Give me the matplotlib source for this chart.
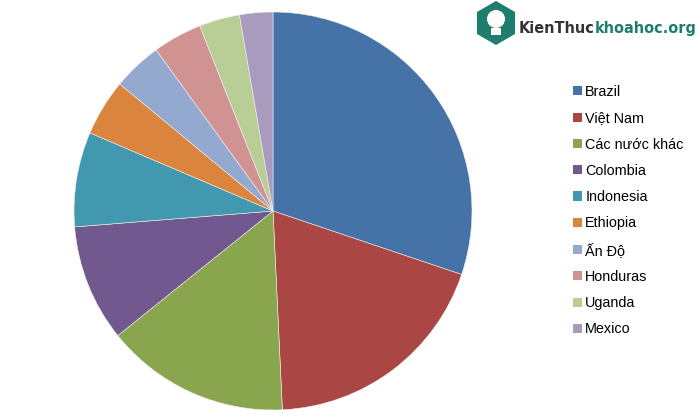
import matplotlib
matplotlib.use("Agg")
import matplotlib.pyplot as plt
from matplotlib.patches import RegularPolygon, Patch

countries = ["Brazil", "Việt Nam", "Các nước khác", "Colombia", "Indonesia",
             "Ethiopia", "Ấn Độ", "Honduras", "Uganda", "Mexico"]
shares = [30.2, 19.1, 15.0, 9.5, 7.7, 4.6, 4.0, 4.0, 3.3, 2.7]
colors = ["#4572A7", "#AA4643", "#89A54E", "#71588F", "#4198AF",
          "#DB843D", "#93A9CF", "#D19392", "#B9CD96", "#A99BBD"]
logo_parts = ["KienThuc", "khoahoc.org"]
logo_colors = ["#333333", "#1f7d6e"]

plt.rcParams['font.family'] = ['Liberation Sans', 'DejaVu Sans']

fig = plt.figure(figsize=(7, 4.2), dpi=100)

# pie: centre ~ (273, 211) px, radius ~199 px
ax = fig.add_axes([73/700, 9/420, 400/700, 400/420])
ax.pie(shares, colors=colors, startangle=90, counterclock=False, radius=0.995,
       wedgeprops=dict(edgecolor='#f0f0f0', linewidth=0.4))
ax.set_xlim(-1, 1)
ax.set_ylim(-1, 1)
ax.set_aspect('equal')
ax.axis('off')

handles = [Patch(facecolor=c, edgecolor='none') for c in colors]
fig.legend(handles, countries, loc='upper left', bbox_to_anchor=(573/700, 1 - 85/420),
           frameon=False, fontsize=10.4, labelspacing=0.85, handlelength=0.6,
           handleheight=0.6, handletextpad=0.25, borderpad=0, borderaxespad=0)

# watermark logo (pixel coords, y down)
lax = fig.add_axes([0, 0, 1, 1], zorder=5)
lax.set_xlim(0, 700)
lax.set_ylim(420, 0)
lax.axis('off')
lax.add_patch(RegularPolygon((496, 23), 6, radius=22, orientation=0,
                             facecolor='#1f7d6e', edgecolor='none'))
lax.add_patch(plt.Circle((496, 19), 9, facecolor='white', edgecolor='none'))
lax.add_patch(plt.Rectangle((491, 28), 10, 7, facecolor='white', edgecolor='none'))

# fit the logo text into the space right of the hexagon
fs = 20
texts = []
x0 = 519
for s, c in zip(logo_parts, logo_colors):
    t = lax.text(x0, 33, s, ha='left', va='baseline', fontsize=fs,
                 fontweight='bold', color=c, fontstretch='condensed',
                 family=['DejaVu Sans', 'Liberation Sans'])
    texts.append(t)
fig.canvas.draw()
r = fig.canvas.get_renderer()
total = sum(t.get_window_extent(r).width for t in texts)
fs = fs * (697 - 519) / total
x0 = 519
for t in texts:
    t.set_fontsize(fs)
    t.set_x(x0)
    fig.canvas.draw()
    x0 += t.get_window_extent(r).width

fig.savefig("out.png", dpi=100)
